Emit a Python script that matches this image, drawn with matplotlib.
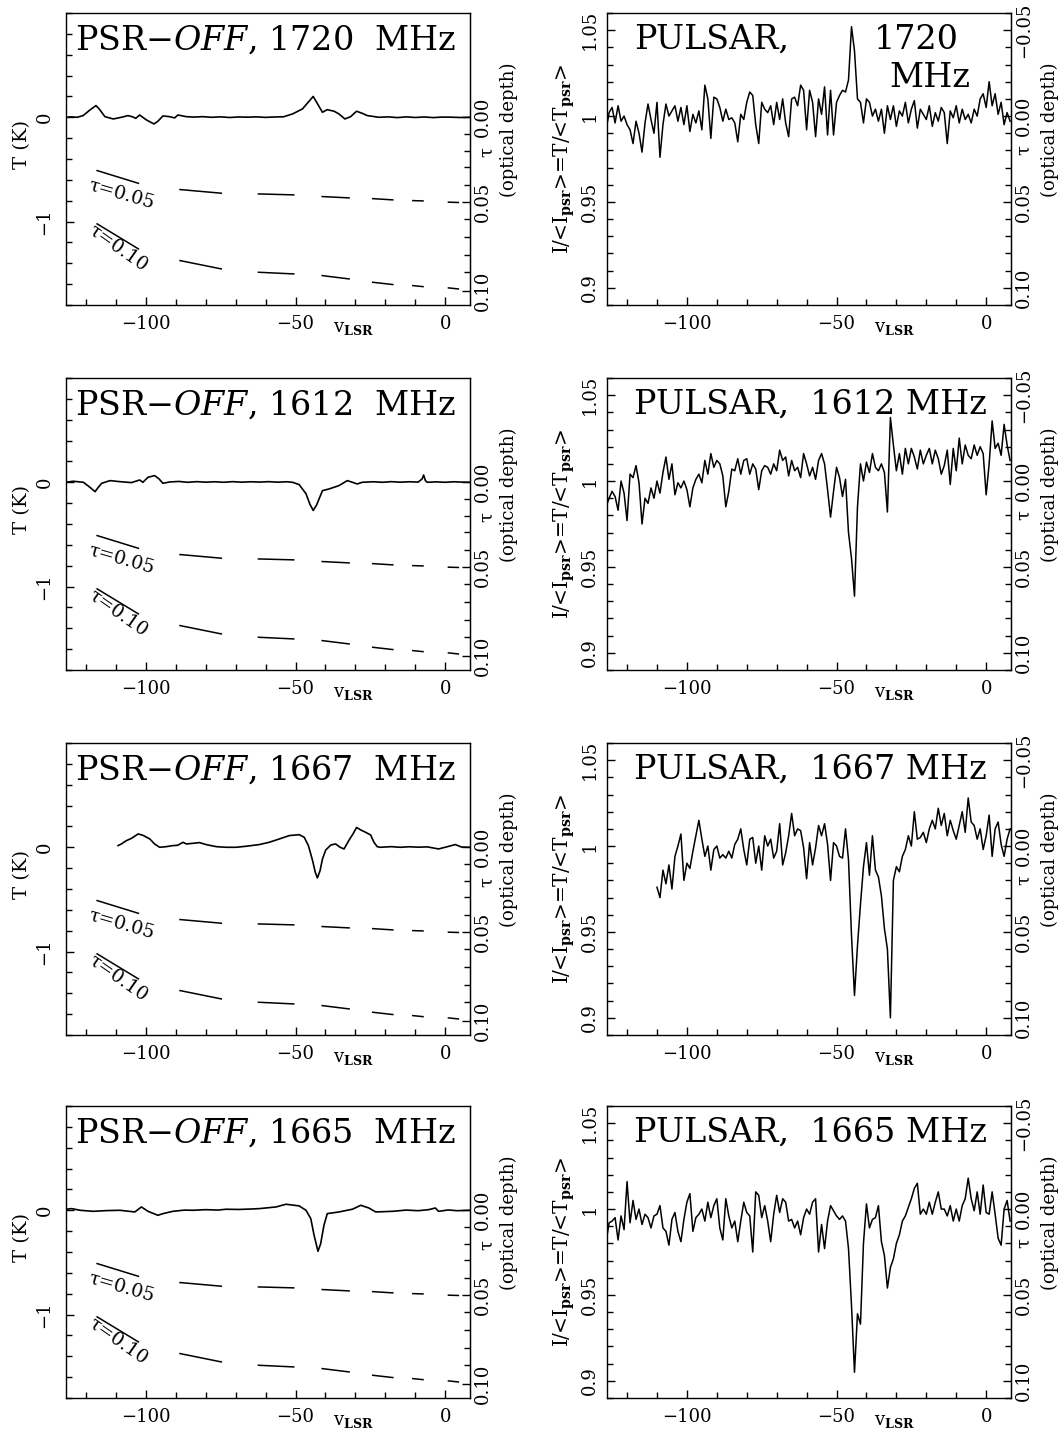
import numpy as np
import matplotlib.pyplot as plt
from matplotlib.ticker import FixedLocator

plt.rcParams['font.family'] = ['DejaVu Serif']
plt.rcParams['mathtext.fontset'] = 'dejavuserif'

W, H = 1062, 1433

# velocity channels of the pulsar spectra (km/s)
vel = np.arange(-127, 9)
vel_1667 = np.arange(-110, 9)

# pulsar spectra, (I/<I_psr> - 1) in units of 1e-3
psr_1720 = [-8, 2, 5, -4, 6, -3, 0, -5, -8, -16,
            -3, -10, -21, -4, 7, -2, -10, 8, -24, -5,
            7, 0, 3, 6, -3, 5, -5, 6, -9, 1,
            -4, 3, -8, 18, 10, -13, 11, 10, 5, -3,
            4, -2, -1, -4, -15, 1, -2, 8, 14, 12,
            -5, -16, 8, 4, 2, 6, -5, 8, -2, 10,
            -4, -12, 10, 11, 6, 18, 15, -8, 15, 8,
            -12, 10, 1, 17, -11, 15, -11, 8, 12, 15,
            14, 21, 52, 38, 10, 8, -4, 10, 8, 0,
            4, -3, 4, -10, 6, -2, 6, -6, 3, 0,
            8, -4, 4, 9, -7, 4, 1, -2, 6, -6,
            2, -3, 5, 2, -16, 3, -1, 6, -4, 4,
            -2, 1, -4, 4, 0, 10, 13, 5, 20, 6,
            13, 1, 8, -5, 2, -3]
psr_1612 = [-15, -10, -6, -9, -17, 0, -7, -23, 4, 2,
            9, -1, -25, -10, -13, -4, -10, 0, -7, 5,
            14, 1, 10, -8, -1, -4, 0, -5, -15, -4,
            1, 4, -1, 12, 4, 16, 8, 12, 10, 3,
            -15, -6, 7, 6, 13, 4, 12, 13, 4, 10,
            7, -5, 6, 9, 8, 4, 10, 6, 18, 12,
            14, 3, 12, 6, 8, 2, 16, 10, 3, 8,
            1, 12, 16, 10, -5, -21, -6, 8, 2, -9,
            1, -30, -45, -67, -15, 10, 0, 11, 5, 16,
            8, 6, 10, 5, -18, 37, 21, 6, 16, 4,
            19, 10, 19, 14, 7, 18, 10, 15, 19, 10,
            18, 13, 4, 9, 18, -2, 19, 6, 25, 10,
            21, 15, 13, 21, 15, 20, 16, -8, 10, 35,
            19, 22, 15, 33, 21, 12]
psr_1667 = [-24, -30, -14, -22, -11, -25, -6, 0, 7, -20,
            -10, -13, -3, 6, 15, 4, -6, 0, -14, -2,
            0, -7, -5, -7, -3, -7, 1, 4, 10, -2,
            -11, 4, 5, -10, 0, -14, 6, 0, 4, -7,
            -3, 13, -11, -4, 6, 19, 6, 10, 9, -1,
            -19, 2, -11, -1, 12, 6, 13, 1, -20, 2,
            0, -6, -7, 10, -8, -52, -87, -58, -34, -12,
            2, -17, 6, -14, -18, -29, -48, -60, -100, -20,
            -12, -15, -6, -2, 6, 0, 20, 4, 5, 8,
            2, 10, 15, 10, 22, 12, 19, 6, 15, 9,
            4, 12, 20, 8, 28, 14, 12, 4, 10, -2,
            6, 18, -6, 10, 14, 1, -6, 4, 10]
psr_1665 = [-19, -8, -7, -5, -18, -4, -12, 16, -8, 5,
            -6, 0, -9, -3, -5, -11, -4, -3, 2, -11,
            -13, -21, -6, -2, -13, -19, -6, 4, 9, -13,
            -5, -3, 0, -7, 4, -5, 2, 6, -11, -18,
            6, -4, -11, -7, -19, -7, 4, -2, -4, -25,
            10, 8, -5, 2, -7, -19, -3, 8, -2, 6,
            4, -7, -6, -11, -7, -15, -5, 0, -3, 4,
            6, -25, -9, -23, -7, 2, -1, -4, -6, -4,
            -7, -23, -56, -95, -61, -67, -20, 3, -11, -6,
            -5, 2, -19, -27, -46, -34, -29, -20, -15, -7,
            -4, 1, 6, 12, 15, -3, 0, -3, 4, -3,
            4, 10, 0, 0, -4, 2, -7, 0, -7, 2,
            6, 18, 6, -1, 10, -3, 14, -2, -3, 10,
            -3, -17, -21, 0, 5, -7]

# PSR-OFF spectra, (v_LSR, T in K)
off_1720 = [(-126.7, 0), (-125, 0.004), (-123, 0), (-121, 0.016), (-118.7, 0.07),
            (-116.7, 0.112), (-115.6, 0.08), (-113.7, 0.006), (-110.9, -0.016),
            (-108.2, 0), (-106, 0.016), (-104.5, 0.005), (-103.4, -0.01), (-102.1, 0.022),
            (-99.8, -0.026), (-97.3, -0.064), (-96, -0.038), (-94.3, 0.013), (-92.1, 0.006),
            (-90.4, -0.006), (-89.3, 0.022), (-86.5, 0.006), (-84, 0.002), (-81, 0.006),
            (-78, 0), (-75, 0.004), (-72, -0.002), (-69, 0.003), (-66, 0.001), (-63, 0.004),
            (-60, -0.001), (-57, 0.003), (-54, 0.005), (-51, 0.032), (-47.7, 0.08),
            (-44.1, 0.2), (-41, 0.048), (-39.4, 0.073), (-37.1, 0.058), (-35.5, 0.032),
            (-33.5, -0.016), (-31.6, 0.006), (-29.6, 0.058), (-27.7, 0.038), (-26, 0.016),
            (-22.1, 0), (-19, 0.004), (-16, -0.003), (-13, 0.004), (-10, -0.002), (-7, 0.003),
            (-4, -0.003), (-1, 0.002), (2, 0.001), (5, -0.002), (8.3, 0)]
off_1612 = [(-126.7, 0), (-124.3, 0.01), (-120.9, 0), (-118.7, -0.048), (-117, -0.09),
            (-115.9, -0.048), (-114.8, -0.01), (-112, 0.016), (-108.7, 0.006),
            (-104.8, -0.003), (-102.1, 0.022), (-101, 0), (-99.3, 0.048), (-97.1, 0.064),
            (-95.6, 0.032), (-94.3, -0.01), (-92.1, 0.003), (-89, 0.008), (-86, 0),
            (-83, 0.006), (-80, 0.001), (-77, 0.005), (-74, 0), (-71, 0.006), (-68, 0.001),
            (-65, 0.005), (-62, 0.002), (-59, 0.006), (-56, 0.001), (-53, 0.005), (-51, 0),
            (-48.8, -0.022), (-46.5, -0.11), (-45.2, -0.21), (-44.1, -0.27), (-43, -0.22),
            (-41, -0.08), (-38.8, -0.064), (-35.5, -0.032), (-32.7, 0.016), (-31, 0),
            (-29.4, -0.016), (-27.7, 0), (-24, 0.005), (-21, 0), (-18, 0.006), (-15, 0.001),
            (-12, 0.005), (-9, 0.002), (-7.7, 0.032), (-7.2, 0.07), (-6.6, 0.016), (-6, 0),
            (-3, 0.004), (0, 0), (3, 0.005), (6, 0.001), (8.3, 0)]
off_1667 = [(-109.3, 0.016), (-108.2, 0.032), (-106.5, 0.064), (-104.8, 0.086),
            (-102.6, 0.128), (-101, 0.115), (-98.7, 0.08), (-97.1, 0.032), (-95.4, 0),
            (-93.2, 0.006), (-91, 0.016), (-89.4, 0.019), (-87.6, 0.048), (-86.5, 0.032),
            (-84.3, 0.038), (-82.1, 0.045), (-79.9, 0.026), (-76.5, 0.006), (-73.2, 0),
            (-69.9, 0), (-66.5, 0.01), (-62.1, 0.026), (-58.8, 0.048), (-55.4, 0.08),
            (-52.1, 0.112), (-48.8, 0.121), (-47.1, 0.096), (-45.7, 0.016), (-44.3, -0.128),
            (-43.4, -0.24), (-42.7, -0.294), (-41.8, -0.224), (-41, -0.112), (-39.9, -0.026),
            (-38.2, 0.022), (-36.6, 0.032), (-35.1, 0), (-33.8, -0.016), (-32.1, 0.07),
            (-30.8, 0.128), (-29.6, 0.19), (-28.2, 0.166), (-26.6, 0.144), (-24.9, 0.118),
            (-23.8, 0.048), (-22.7, 0.006), (-21.6, 0), (-18, 0.006), (-15, 0), (-12, 0.005),
            (-9, 0.001), (-6, 0.004), (-2.2, -0.016), (0.5, 0.004), (3.4, 0.026), (5.5, 0.002),
            (8.3, 0)]
off_1665 = [(-126.7, 0.01), (-124.8, 0.016), (-122, 0), (-117.6, -0.01), (-113.1, -0.003),
            (-108.7, 0), (-103.7, -0.016), (-101.5, 0.032), (-99.3, -0.01), (-96, -0.048),
            (-94.3, -0.032), (-91, -0.01), (-87, 0.002), (-84.3, 0), (-80, 0.006), (-76, 0.002),
            (-73.2, 0.01), (-69, 0.008), (-65, 0.012), (-62.1, 0.016), (-56.5, 0.032),
            (-53.2, 0.058), (-48.8, 0.042), (-46.5, 0), (-44.9, -0.08), (-43.8, -0.24),
            (-42.5, -0.393), (-41.6, -0.32), (-40.5, -0.144), (-39.4, -0.032), (-35.5, -0.016),
            (-31, 0.01), (-28.2, 0.048), (-25.5, 0.022), (-23.2, -0.016), (-17.6, -0.01),
            (-13, 0.002), (-9, -0.004), (-5.5, 0.006), (-3.3, 0.022), (-2.2, -0.01),
            (1, 0.003), (4, -0.004), (8.3, 0)]

# tau = 0.05 and 0.10 guide curves, given as dash end points
tau_v = [-116.3, -102.5, -88.6, -74.8, -62.4, -50.6, -41.1, -32.1,
         -24.2, -17.5, -10.8, -7.4, 1.1, 4.4]
tau05_T = [-0.511, -0.633, -0.693, -0.728, -0.735, -0.744, -0.760, -0.773,
           -0.780, -0.792, -0.799, -0.802, -0.814, -0.817]
tau10_T = [-1.022, -1.262, -1.374, -1.454, -1.486, -1.502, -1.518, -1.550,
           -1.582, -1.604, -1.614, -1.624, -1.636, -1.646]

freqs = ['1720', '1612', '1667', '1665']
off_data = [off_1720, off_1612, off_1667, off_1665]
psr_data = [(vel, psr_1720), (vel, psr_1612), (vel_1667, psr_1667), (vel, psr_1665)]

TC = 15.8  # K, scale for optical depth axis of the OFF spectra

rows_top = [13, 378, 743, 1106]
panel_h = 292
FS = 13

fig = plt.figure(figsize=(W / 100, H / 100), dpi=100)


def add_ax(x0, x1, top):
    return fig.add_axes([x0 / W, 1 - (top + panel_h) / H, (x1 - x0) / W, panel_h / H])


def style_x(ax):
    ax.set_xlim(-126.7, 8.3)
    ax.set_xticks([-100, -50, 0], labels=['\u2212100', '\u221250', '0'])
    ax.xaxis.set_minor_locator(FixedLocator(np.arange(-120, 9, 10)))
    ax.tick_params(axis='x', which='both', direction='in', top=False, pad=7, labelsize=FS)
    ax.tick_params(axis='both', which='major', length=6, width=1)
    ax.tick_params(axis='both', which='minor', length=4, width=1)
    for s in ax.spines.values():
        s.set_linewidth(1)
    ax.text(0.711, -0.078, r'v$_\mathbf{LSR}$', transform=ax.transAxes,
            ha='center', va='center', fontsize=FS)


def right_labels(ax, sec, tau_x, tau_y):
    sec.tick_params(axis='y', which='both', direction='in', labelrotation=90,
                    pad=3, labelsize=FS, width=1)
    sec.tick_params(axis='y', which='major', length=6)
    sec.tick_params(axis='y', which='minor', length=4)
    plt.setp(sec.get_yticklabels(), va='center')
    ax.text(tau_x, tau_y, '\u03c4', transform=ax.transAxes, rotation=90,
            ha='center', va='center', fontsize=FS)
    ax.text(1.097, 0.6, '(optical depth)', transform=ax.transAxes, rotation=90,
            ha='center', va='center', fontsize=FS)


for i, f in enumerate(freqs):
    top = rows_top[i]

    # ---- PSR - OFF panel
    ax = add_ax(66, 470, top)
    v, T = np.array(off_data[i]).T
    ax.plot(v, T, color='black', lw=1.2)
    for k in range(0, len(tau_v), 2):
        ax.plot(tau_v[k:k + 2], tau05_T[k:k + 2], color='black', lw=1.1)
        ax.plot(tau_v[k:k + 2], tau10_T[k:k + 2], color='black', lw=1.1)
    ax.text(-108.2, -0.74, '\u03c4=0.05', rotation=-16, fontsize=13.5,
            ha='center', va='center', rotation_mode='anchor')
    ax.text(-109.4, -1.25, '\u03c4=0.10', rotation=-35, fontsize=13.5,
            ha='center', va='center', rotation_mode='anchor')
    ax.set_ylim(-1.8, 1.0)
    ax.set_yticks([-1, 0], labels=['\u22121', '0'])
    ax.yaxis.set_minor_locator(FixedLocator(np.arange(-1.8, 1.01, 0.2)))
    ax.tick_params(axis='y', which='both', direction='in', right=False,
                   labelrotation=90, pad=9, labelsize=FS)
    plt.setp(ax.get_yticklabels(), va='center')
    style_x(ax)
    ax.text(-0.109, 0.55, 'T (K)', transform=ax.transAxes, rotation=90,
            ha='center', va='center', fontsize=14)
    ax.text(0.022, 0.908, r'PSR$-\mathit{OFF}$, ' + f + '  MHz', transform=ax.transAxes,
            ha='left', va='center', fontsize=24)
    sec = ax.secondary_yaxis('right', functions=(lambda t: np.log(1 - t / TC),
                                                 lambda x: -TC * (np.exp(x) - 1)))
    sec.set_yticks([0, 0.05, 0.10], labels=['0.00', '0.05', '0.10'])
    sec.yaxis.set_minor_locator(FixedLocator(np.arange(0, 0.105, 0.01)))
    right_labels(ax, sec, 1.043, 0.523)

    # ---- PULSAR panel
    ax = add_ax(607, 1011, top)
    pv, pI = psr_data[i]
    ax.plot(pv, 1 + np.array(pI) / 1000, color='black', lw=1.1)
    ax.set_ylim(0.89, 1.06)
    ax.set_yticks([0.9, 0.95, 1.0, 1.05], labels=['0.9', '0.95', '1', '1.05'])
    ax.yaxis.set_minor_locator(FixedLocator(np.arange(0.89, 1.061, 0.01)))
    ax.tick_params(axis='y', which='both', direction='in', right=False,
                   labelrotation=90, pad=6, labelsize=FS)
    plt.setp(ax.get_yticklabels(), va='center')
    style_x(ax)
    ax.text(-0.105, 0.5, r'I/<I$_\mathbf{psr}$>=T/<T$_\mathbf{psr}$>', transform=ax.transAxes,
            rotation=90, ha='center', va='center', fontsize=14.5)
    if f == '1720':
        ax.text(0.068, 0.908, 'PULSAR,', transform=ax.transAxes,
                ha='left', va='center', fontsize=24)
        ax.text(0.661, 0.908, f, transform=ax.transAxes,
                ha='left', va='center', fontsize=24)
        ax.text(0.70, 0.779, 'MHz', transform=ax.transAxes,
                ha='left', va='center', fontsize=24)
    else:
        ax.text(0.068, 0.908, 'PULSAR,  ' + f + ' MHz', transform=ax.transAxes,
                ha='left', va='center', fontsize=24)
    sec = ax.secondary_yaxis('right', functions=(lambda y: 1 - y, lambda t: 1 - t))
    sec.set_yticks([-0.05, 0, 0.05, 0.10], labels=['\u22120.05', '0.00', '0.05', '0.10'])
    sec.yaxis.set_minor_locator(FixedLocator(np.arange(-0.06, 0.115, 0.01)))
    right_labels(ax, sec, 1.032, 0.53)

fig.savefig('out.png', dpi=100)
